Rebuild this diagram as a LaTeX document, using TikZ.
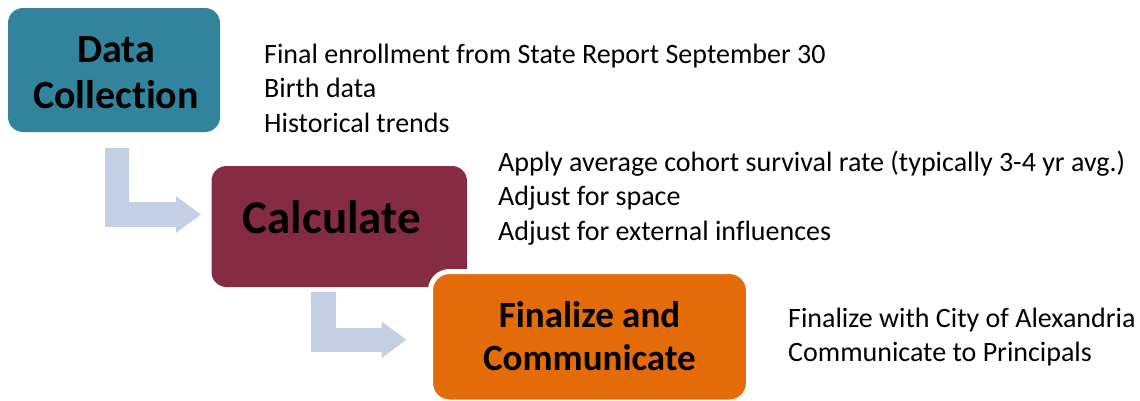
\documentclass[tikz,border=0pt]{standalone}
\usepackage{fontspec}
\setmainfont[Ligatures={NoCommon}]{Carlito}
\usetikzlibrary{arrows.meta,calc}
\definecolor{tealc}{HTML}{31849B}
\definecolor{maroonc}{HTML}{852C44}
\definecolor{orangec}{HTML}{E36C09}
\definecolor{arrowc}{HTML}{C3CFE4}
\begin{document}
\begin{tikzpicture}[x=1pt,y=-1pt,
  stepbox/.style={inner sep=0pt, outer sep=0pt},
  boxtext/.style={inner sep=0pt, align=center, text=black},
  listtext/.style={inner sep=0pt, align=left, text=black, font=\fontsize{28}{34.5}\selectfont},
  flowarrow/.style={draw=arrowc, line width=24.5pt, line join=miter, -{Triangle[width=35pt,length=25pt]}}]
\useasboundingbox (0,0) rectangle (1140,400);
% boxes
\node[stepbox, fill=tealc, rounded corners=15pt, minimum width=212pt, minimum height=124pt] (dc) at (114,70) {};
\node[boxtext, anchor=base, font=\bfseries\fontsize{40}{46}\selectfont] (dct) at (116,108) {Data\\Collection};
\node[stepbox, fill=maroonc, rounded corners=15pt, minimum width=255.5pt, minimum height=121pt] (calc) at (339.25,226.5) {};
\node[boxtext, anchor=base, font=\bfseries\fontsize{47}{56}\selectfont] (calct) at (332,233) {Calculate};
\node[stepbox, fill=orangec, draw=white, line width=5pt, rounded corners=19pt, minimum width=318pt, minimum height=130.5pt] (fin) at (589.5,336.75) {};
\node[boxtext, anchor=base, font=\bfseries\fontsize{37}{43}\selectfont] (fint) at (589.5,370) {Finalize and\\Communicate};
% lists
\node[listtext, anchor=base west] (l1) at (264,132) {Final enrollment from State Report September 30\\Birth data\\Historical trends};
\node[listtext, anchor=base west] (l2) at (498,240) {Apply average cohort survival rate (typically 3-4 yr avg.)\\Adjust for space\\Adjust for external influences};
\node[listtext, anchor=base west] (l3) at (788,361.7) {Finalize with City of Alexandria\\Communicate to Principals};
% arrows
\draw[flowarrow] ($(dc.south)+(3,16)$) |- ($(calc.west)+(-10.5,-12)$);
\draw[flowarrow] ($(calc.south)+(-16,5)$) |- ($(fin.west)+(-24,3)$);
\end{tikzpicture}
\end{document}
